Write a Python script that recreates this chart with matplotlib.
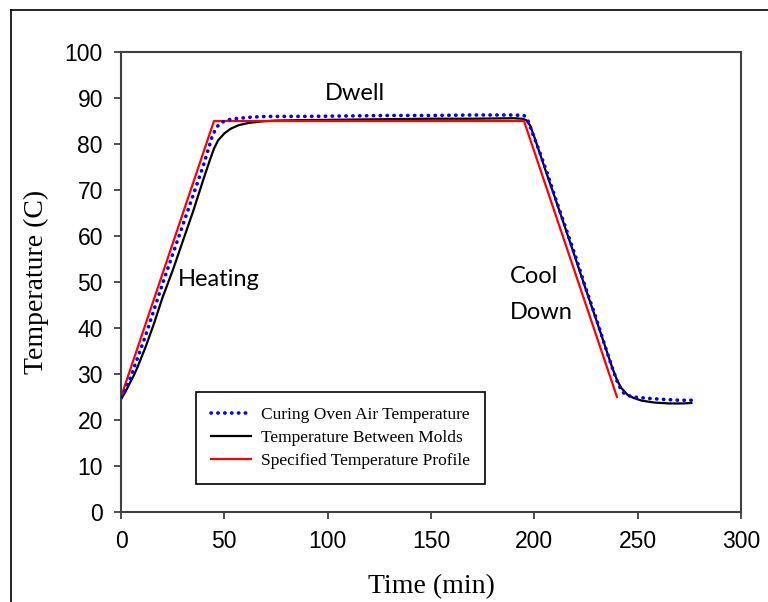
import numpy as np
import matplotlib
matplotlib.use('Agg')
import matplotlib.pyplot as plt
from matplotlib.lines import Line2D

# specified profile
t_spec = [0, 45, 195, 240]
T_spec = [25, 85, 85, 25]

# temperature between molds
t_mold = [0, 2, 4, 6, 8, 12, 16, 20, 25, 30, 35, 40, 43, 45, 47, 50, 53, 57, 62, 68, 75,
          90, 110, 130, 150, 170, 190, 194, 196, 198, 200, 203, 206, 210, 215, 220, 225,
          230, 235, 238, 240, 242, 245, 248, 252, 258, 265, 272, 276]
T_mold = [24.5, 26, 27.8, 29.5, 31.5, 36, 41, 46.5, 52.5, 59, 65.5, 72.5, 76.5, 79, 80.8, 82.3, 83.3, 84.1, 84.6, 84.9, 85.1,
          85.2, 85.3, 85.4, 85.5, 85.5, 85.6, 85.5, 85.2, 84, 81.5, 77.5, 73.5, 68.3, 61.7, 55, 48.3,
          41.7, 35, 31, 28.7, 27, 25.5, 24.8, 24.2, 23.8, 23.6, 23.6, 23.7]

# curing oven air temperature
t_air = [0, 2, 4, 6, 8, 12, 16, 20, 25, 30, 35, 40, 42, 44, 46, 48, 51, 55, 62, 70,
         90, 110, 130, 150, 170, 190, 195, 197, 199, 202, 206, 210, 215, 220, 225,
         230, 235, 238, 240, 242, 244, 248, 255, 262, 270, 277]
T_air = [25, 26.5, 28.5, 31, 33.5, 38.5, 44, 49.5, 56, 62.5, 69, 75.5, 78.5, 81.5, 83.5, 84.5, 85.2, 85.5, 85.8, 86,
         86, 86.1, 86.2, 86.2, 86.3, 86.3, 86.2, 85, 82.5, 79, 74, 68.5, 62, 55.5, 48.5,
         42, 35, 31, 28.5, 26.5, 25.5, 25, 24.7, 24.5, 24.3, 24.3]

fig = plt.figure(figsize=(7.68, 6.02), dpi=100)
ax = fig.add_axes([121/768, 90/602, 620/768, 460/602])

ax.plot(t_air, T_air, color='#0000ff', lw=2.6, linestyle=(0, (0.1, 1.8)),
        dash_capstyle='round', label='Curing Oven Air Temperature', zorder=3)
ax.plot(t_mold, T_mold, color='black', lw=1.6, label='Temperature Between Molds', zorder=2)
ax.plot(t_spec, T_spec, color='#ff0000', lw=1.6, label='Specified Temperature Profile', zorder=2)

ax.set_xlim(0, 300)
ax.set_ylim(0, 100)
ax.set_xticks(np.arange(0, 301, 50))
ax.set_yticks(np.arange(0, 101, 10))
for s in ax.spines.values():
    s.set_color('#404040')
    s.set_linewidth(1.5)
ax.tick_params(direction='out', length=5, width=1.3, color='#404040', pad=8, labelsize=16.5)
for lab in ax.get_xticklabels() + ax.get_yticklabels():
    lab.set_family('Liberation Sans')

ax.set_xlabel('Time (min)', family='Liberation Serif', fontsize=20, labelpad=15)
ax.set_ylabel('Temperature (C)', family='Liberation Serif', fontsize=20, labelpad=11)

ann = dict(family='Lato', fontsize=17, color='black')
ax.text(27.5, 50.5, 'Heating', va='center', ha='left', **ann)
ax.text(113, 91, 'Dwell', va='center', ha='center', **ann)
ax.text(188, 51.3, 'Cool', va='center', ha='left', **ann)
ax.text(188, 43.4, 'Down', va='center', ha='left', **ann)

leg = ax.legend(loc='upper left', bbox_to_anchor=(0.121, 0.261), borderaxespad=0,
                fancybox=False, framealpha=1, edgecolor='black',
                prop={'family': 'Liberation Serif', 'size': 12.5},
                handlelength=2.3, handletextpad=0.6, labelspacing=0.4, borderpad=0.85)
leg.get_frame().set_linewidth(1.2)

# outer chart frame (left and top only visible)
fig.add_artist(Line2D([11/768, 11/768], [0, 1 - 10/602], color='black', lw=1.2, transform=fig.transFigure))
fig.add_artist(Line2D([11/768, 1], [1 - 10/602, 1 - 10/602], color='black', lw=1.2, transform=fig.transFigure))

fig.savefig('out.png', dpi=100)
